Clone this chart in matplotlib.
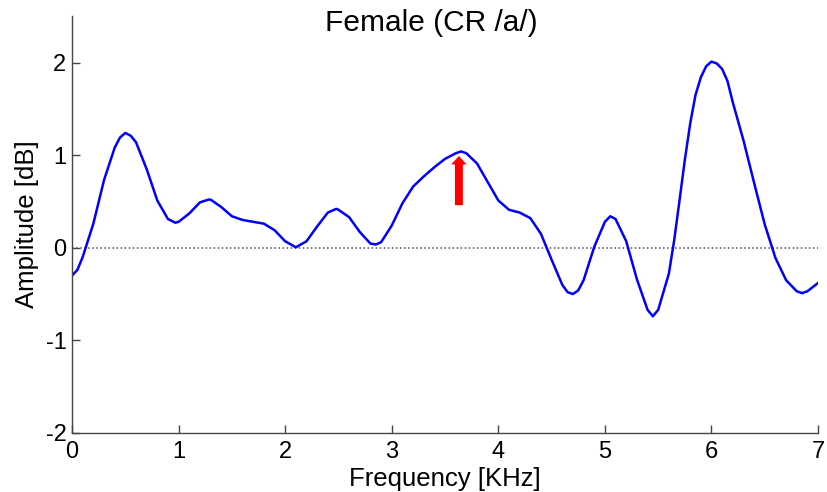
import numpy as np
import matplotlib.pyplot as plt

plt.rcParams['font.family'] = ['Liberation Sans', 'DejaVu Sans']
plt.rcParams['axes.unicode_minus'] = False

# frequency [kHz] and amplitude difference [dB]
freq = [0.0, 0.05, 0.1, 0.2, 0.3, 0.4, 0.45, 0.5, 0.55, 0.6, 0.7, 0.8, 0.9,
        0.97, 1.0, 1.1, 1.2, 1.28, 1.3, 1.4, 1.5, 1.6, 1.7, 1.8, 1.9, 2.0,
        2.1, 2.2, 2.3, 2.4, 2.48, 2.5, 2.6, 2.7, 2.8, 2.85, 2.9, 3.0, 3.1,
        3.2, 3.3, 3.4, 3.5, 3.6, 3.65, 3.7, 3.8, 3.9, 4.0, 4.1, 4.2, 4.3,
        4.4, 4.5, 4.6, 4.65, 4.7, 4.75, 4.8, 4.9, 5.0, 5.05, 5.1, 5.2, 5.3,
        5.4, 5.45, 5.5, 5.6, 5.65, 5.7, 5.75, 5.8, 5.85, 5.9, 5.95, 6.0,
        6.05, 6.1, 6.15, 6.2, 6.3, 6.4, 6.5, 6.6, 6.7, 6.8, 6.85, 6.9, 7.0]
amp = [-0.30, -0.24, -0.10, 0.26, 0.73, 1.08, 1.19, 1.24, 1.21, 1.14, 0.85,
       0.51, 0.31, 0.27, 0.28, 0.37, 0.49, 0.52, 0.52, 0.44, 0.34, 0.30,
       0.28, 0.26, 0.19, 0.07, 0.005, 0.07, 0.23, 0.38, 0.42, 0.41, 0.33,
       0.17, 0.045, 0.035, 0.06, 0.24, 0.48, 0.66, 0.77, 0.87, 0.96, 1.02,
       1.04, 1.02, 0.91, 0.71, 0.51, 0.41, 0.38, 0.32, 0.15, -0.13, -0.40,
       -0.48, -0.50, -0.46, -0.35, 0.01, 0.28, 0.34, 0.31, 0.07, -0.34,
       -0.67, -0.74, -0.67, -0.28, 0.08, 0.51, 0.95, 1.34, 1.65, 1.84, 1.96,
       2.01, 1.99, 1.93, 1.80, 1.57, 1.16, 0.70, 0.25, -0.11, -0.35, -0.47,
       -0.49, -0.47, -0.38]

fig = plt.figure(figsize=(8.28, 4.92), dpi=100)
ax = fig.add_axes([0.087, 0.12, 0.901, 0.847])

ax.plot([0, 7], [0, 0], ':', color='#555555', lw=1.1)
ax.plot(freq, amp, color='#0000ff', lw=1.8, solid_joinstyle='round')

# marker for the peak near 3.6 kHz
ax.arrow(3.63, 0.46, 0, 0.53, width=0.075, head_width=0.145,
         head_length=0.09, length_includes_head=True,
         color='#ff0000', lw=0)

ax.set_xlim(0, 7)
ax.set_ylim(-2, 2.5)
ax.set_xticks(range(0, 8))
ax.set_yticks([-2, -1, 0, 1, 2])

for s in ['top', 'right']:
    ax.spines[s].set_visible(False)
for s in ['left', 'bottom']:
    ax.spines[s].set_color('#444444')
    ax.spines[s].set_linewidth(1.0)

ax.tick_params(direction='in', length=6, width=1, color='#444444',
               labelsize=17)
ax.tick_params(axis='x', pad=6)
ax.tick_params(axis='y', pad=4)

ax.set_xlabel('Frequency [KHz]', fontsize=18.5, labelpad=3)
ax.set_ylabel('Amplitude [dB]', fontsize=18.5, labelpad=5)
fig.text(0.521, 0.954, 'Female (CR /a/)', fontsize=21.5,
         ha='center', va='center')

fig.savefig('out.png', dpi=100)
